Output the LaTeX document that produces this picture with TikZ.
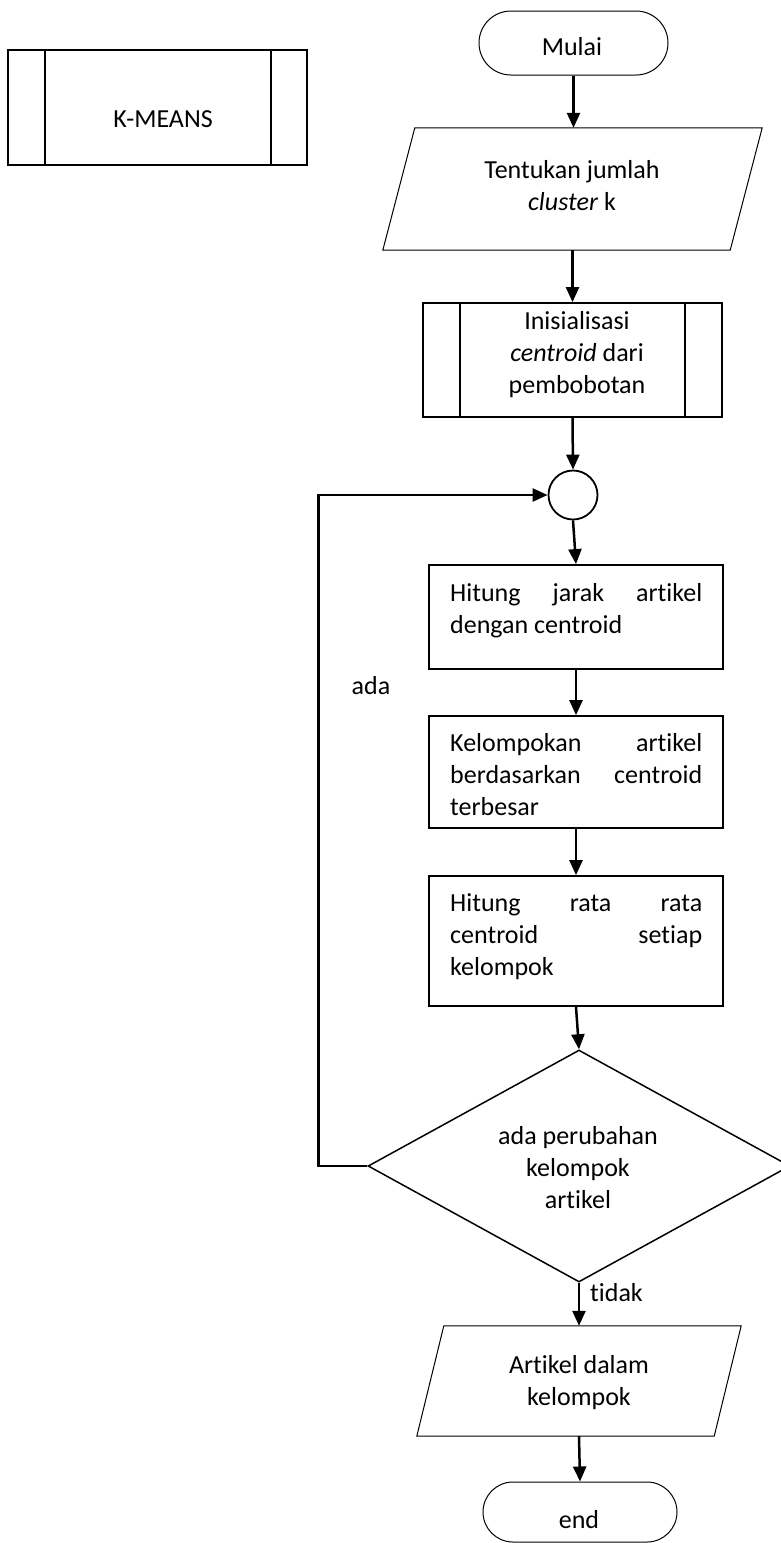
\documentclass[tikz,border=0pt]{standalone}
\usepackage{fontspec}
\setmainfont{Carlito}[Ligatures={NoCommon}]
\usetikzlibrary{shapes.geometric,shapes.misc,arrows.meta}
\begin{document}
\begin{tikzpicture}[x=1pt,y=-1pt,
  every node/.style={font=\fontsize{26}{32}\selectfont, inner sep=0pt},
  procbox/.style={draw, line width=1.8pt, minimum width=294pt},
  subproc/.style={draw, line width=1.8pt, minimum width=299pt},
  term/.style={draw, rounded rectangle, line width=1pt},
  io/.style={draw, line width=1pt},
  flow/.style={line width=2.5pt, -{Triangle[length=15pt,width=13pt]}},
  jtext/.style={text width=252pt, align=justify, anchor=base west},
  ctext/.style={align=center, anchor=base},
]
\useasboundingbox (0,0) rectangle (781,1543);

% K-MEANS
\node[subproc, minimum height=115pt] (km) at (157.5,107.5) {};
\draw[line width=1.8pt] ([xshift=38pt]km.north west) -- ([xshift=38pt]km.south west);
\draw[line width=1.8pt] ([xshift=-37pt]km.north east) -- ([xshift=-37pt]km.south east);
\node[ctext] (kmt) at (163,127) {K-MEANS};

% Mulai
\node[term, minimum width=189pt, minimum height=64pt] (mulai) at (573.5,43) {};
\node[ctext] (mulait) at (572,55) {Mulai};

% Tentukan
\node[minimum width=379pt, minimum height=122pt] (tent) at (572.5,189) {};
\draw[io] ([xshift=32pt]tent.north west) -- (tent.north east) -- ([xshift=-32pt]tent.south east) -- (tent.south west) -- cycle;
\node[ctext] (tentt) at (572,210) {Tentukan jumlah\\\textit{cluster} k};

% Inisialisasi
\node[subproc, minimum height=114pt] (init) at (572.5,360) {};
\draw[line width=1.8pt] ([xshift=38pt]init.north west) -- ([xshift=38pt]init.south west);
\draw[line width=1.8pt] ([xshift=-38pt]init.north east) -- ([xshift=-38pt]init.south east);
\node[ctext] (initt) at (577,393) {Inisialisasi\\\textit{centroid} dari\\pembobotan};

% connector circle
\node[draw, circle, line width=1.8pt, minimum size=49pt] (conn) at (573,495) {};

% process boxes
\node[procbox, minimum height=104pt] (hj) at (576,617) {};
\node[jtext] (hjt) at (450,601) {Hitung jarak artikel\linebreak dengan centroid};
\node[procbox, minimum height=112pt] (kel) at (576,772) {};
\node[jtext] (kelt) at (450,751) {Kelompokan artikel\linebreak berdasarkan centroid\linebreak terbesar};
\node[procbox, minimum height=130pt] (hr) at (576,941) {};
\node[jtext] (hrt) at (450,911) {Hitung rata rata\linebreak centroid setiap\linebreak kelompok};

% decision
\node[draw, diamond, line width=1.5pt, minimum width=422pt, minimum height=232pt] (dec) at (579,1166) {};
\node[ctext] (dect) at (578,1208) {ada perubahan\\kelompok\\artikel};

% output
\node[minimum width=324pt, minimum height=110pt] (out) at (579,1381) {};
\draw[io] ([xshift=27pt]out.north west) -- (out.north east) -- ([xshift=-27pt]out.south east) -- (out.south west) -- cycle;
\node[ctext] (outt) at (579,1405) {Artikel dalam\\kelompok};

% end
\node[term, minimum width=194pt, minimum height=60pt] (fin) at (580,1512) {};
\node[ctext] (fint) at (579,1528) {end};

% connectors
\draw[flow] (mulai.south) -- (mulai.south |- tent.north);
\draw[flow] (tent.south) -- (init.north);
\draw[flow] (init.south) -- (conn.north);
\draw[flow] (conn.south) -- (hj.north);
\draw[flow] (hj.south) -- (kel.north);
\draw[flow] (kel.south) -- (hr.north);
\draw[flow] (hr.south) -- (dec.north);
\draw[flow] (dec.south) -- (out.north);
\draw[flow] (out.south) -- (fin.north);
\draw[flow] (dec.west) -- ++(-49,0) |- (conn.west);

% labels
\node[anchor=base] (ada) at (371,694) {ada};
\node[anchor=base west] (tidak) at (590,1301) {tidak};
\end{tikzpicture}
\end{document}
